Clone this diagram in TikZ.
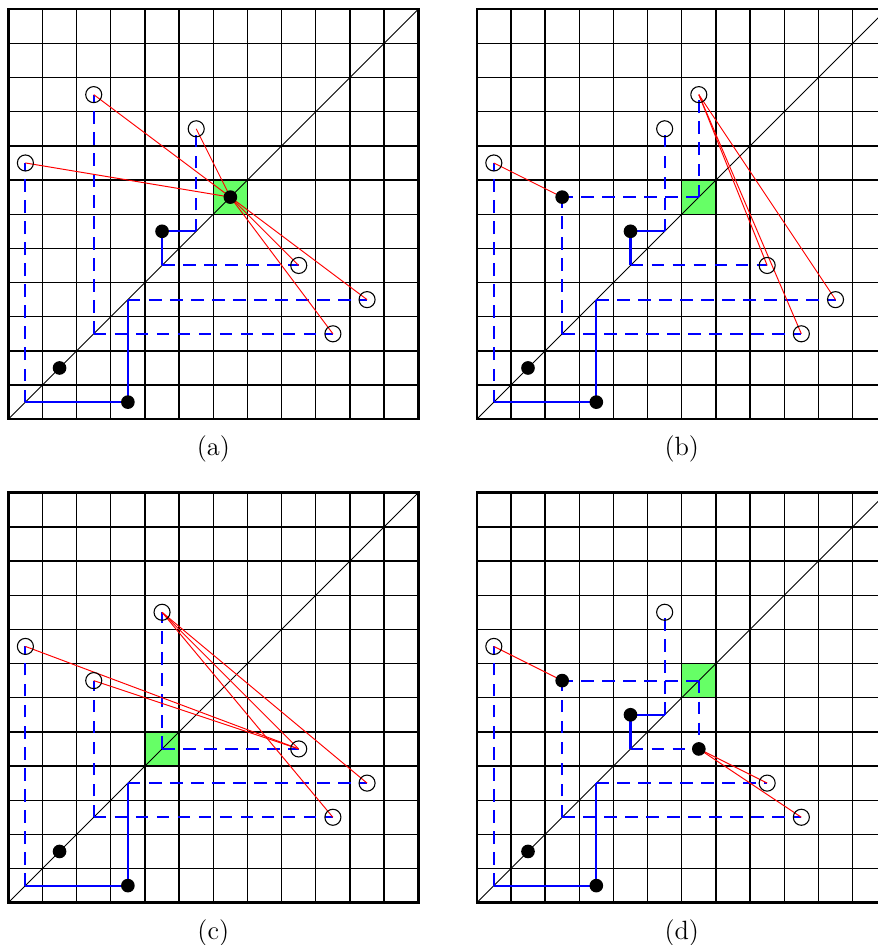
\documentclass[tikz,border=0pt]{standalone}
\usepackage{xcolor}
\usetikzlibrary{positioning}
\pgfdeclarelayer{board}
\pgfdeclarelayer{wires}
\pgfsetlayers{board,wires,main}

% grid, green cell and diagonal of one panel
\newcommand{\drawboard}[1]{%
  \begin{pgfonlayer}{board}
    \fill[cell] #1 rectangle ++(1,1);
    \draw[gridline] (0,0) grid (12,12);
    \draw[frame] (0,0) rectangle (12,12);
    \draw[diag] (0,0) -- (12,12);
  \end{pgfonlayer}}

\begin{document}
\begin{tikzpicture}[x=0.5cm, y=0.5cm,
    cell/.style={fill=green!60},
    gridline/.style={line width=0.55pt, step=1},
    frame/.style={line width=1pt},
    diag/.style={line width=0.4pt},
    hook/.style={blue, line width=0.85pt},
    tail/.style={blue, line width=0.85pt, dash pattern=on 5.25pt off 3.5pt},
    link/.style={red, line width=0.4pt},
    dot/.style={circle, fill=black, inner sep=0pt, minimum size=2mm},
    hole/.style={circle, draw, line width=0.45pt, inner sep=0pt, minimum size=2.35mm},
    caption/.style={inner sep=0pt, font=\fontsize{11pt}{13pt}\selectfont}
]
\useasboundingbox (-0.243,-1.238) rectangle (25.45,26.42);

% (a)
\begin{scope}[shift={(0,14.15)}]
  \drawboard{(6,6)}
  \node[dot]  (ad1) at (1.5,1.5) {};
  \node[dot]  (ad2) at (3.5,0.5) {};
  \node[dot]  (ad3) at (4.5,5.5) {};
  \node[dot]  (ad4) at (6.5,6.5) {};
  \node[hole] (ah1) at (0.5,7.5) {};
  \node[hole] (ah2) at (2.5,9.5) {};
  \node[hole] (ah3) at (5.5,8.5) {};
  \node[hole] (ah4) at (8.5,4.5) {};
  \node[hole] (ah5) at (10.5,3.5) {};
  \node[hole] (ah6) at (9.5,2.5) {};
  \coordinate (aq1) at (0.5,0.5);
  \coordinate (aq2) at (2.5,2.5);
  \coordinate (aq3) at (3.5,3.5);
  \coordinate (aq4) at (4.5,4.5);
  \coordinate (aq5) at (5.5,5.5);
  \begin{pgfonlayer}{wires}
    \draw[hook] (ad2.center) -- (aq1);
    \draw[hook] (ad2.center) -- (aq3);
    \draw[hook] (ad3.center) -- (aq5);
    \draw[hook] (ad3.center) -- (aq4);
    \draw[tail] (aq1) -- (ah1.center);
    \draw[tail] (aq2) -- (ah2.center);
    \draw[tail] (aq2) -- (ah6.center);
    \draw[tail] (aq3) -- (ah5.center);
    \draw[tail] (aq4) -- (ah4.center);
    \draw[tail] (aq5) -- (ah3.center);
    \foreach \h in {1,...,6}
      \draw[link] (ad4.center) -- (ah\h.center);
  \end{pgfonlayer}
  \node[caption] (acap) at (6,-0.88) {(a)};
\end{scope}

% (b)
\begin{scope}[shift={(13.71,14.15)}]
  \drawboard{(6,6)}
  \node[dot]  (bd1) at (1.5,1.5) {};
  \node[dot]  (bd2) at (3.5,0.5) {};
  \node[dot]  (bd3) at (4.5,5.5) {};
  \node[dot]  (bd4) at (2.5,6.5) {};
  \node[hole] (bh1) at (0.5,7.5) {};
  \node[hole] (bh2) at (6.5,9.5) {};
  \node[hole] (bh3) at (5.5,8.5) {};
  \node[hole] (bh4) at (8.5,4.5) {};
  \node[hole] (bh5) at (10.5,3.5) {};
  \node[hole] (bh6) at (9.5,2.5) {};
  \coordinate (bq1) at (0.5,0.5);
  \coordinate (bq2) at (2.5,2.5);
  \coordinate (bq3) at (3.5,3.5);
  \coordinate (bq4) at (4.5,4.5);
  \coordinate (bq5) at (5.5,5.5);
  \coordinate (bq6) at (6.5,6.5);
  \begin{pgfonlayer}{wires}
    \draw[hook] (bd2.center) -- (bq1);
    \draw[hook] (bd2.center) -- (bq3);
    \draw[hook] (bd3.center) -- (bq5);
    \draw[hook] (bd3.center) -- (bq4);
    \draw[tail] (bq1) -- (bh1.center);
    \draw[tail] (bq2) -- (bd4.center);
    \draw[tail] (bq2) -- (bh6.center);
    \draw[tail] (bq3) -- (bh5.center);
    \draw[tail] (bq4) -- (bh4.center);
    \draw[tail] (bq5) -- (bh3.center);
    \draw[tail] (bq6) -- (bd4.center);
    \draw[tail] (bq6) -- (bh2.center);
    \draw[link] (bd4.center) -- (bh1.center);
    \foreach \h in {4,5,6}
      \draw[link] (bh2.center) -- (bh\h.center);
  \end{pgfonlayer}
  \node[caption] (bcap) at (6,-0.88) {(b)};
\end{scope}

% (c)
\begin{scope}
  \drawboard{(4,4)}
  \node[dot]  (cd1) at (1.5,1.5) {};
  \node[dot]  (cd2) at (3.5,0.5) {};
  \node[hole] (ch1) at (0.5,7.5) {};
  \node[hole] (ch2) at (2.5,6.5) {};
  \node[hole] (ch3) at (4.5,8.5) {};
  \node[hole] (ch4) at (8.5,4.5) {};
  \node[hole] (ch5) at (10.5,3.5) {};
  \node[hole] (ch6) at (9.5,2.5) {};
  \coordinate (cq1) at (0.5,0.5);
  \coordinate (cq2) at (2.5,2.5);
  \coordinate (cq3) at (3.5,3.5);
  \coordinate (cq4) at (4.5,4.5);
  \begin{pgfonlayer}{wires}
    \draw[hook] (cd2.center) -- (cq1);
    \draw[hook] (cd2.center) -- (cq3);
    \draw[tail] (cq1) -- (ch1.center);
    \draw[tail] (cq2) -- (ch2.center);
    \draw[tail] (cq2) -- (ch6.center);
    \draw[tail] (cq3) -- (ch5.center);
    \draw[tail] (cq4) -- (ch3.center);
    \draw[tail] (cq4) -- (ch4.center);
    \draw[link] (ch1.center) -- (ch4.center);
    \draw[link] (ch2.center) -- (ch4.center);
    \foreach \h in {4,5,6}
      \draw[link] (ch3.center) -- (ch\h.center);
  \end{pgfonlayer}
  \node[caption] (ccap) at (6,-0.88) {(c)};
\end{scope}

% (d)
\begin{scope}[shift={(13.71,0)}]
  \drawboard{(6,6)}
  \node[dot]  (dd1) at (1.5,1.5) {};
  \node[dot]  (dd2) at (3.5,0.5) {};
  \node[dot]  (dd3) at (4.5,5.5) {};
  \node[dot]  (dd4) at (2.5,6.5) {};
  \node[dot]  (dd5) at (6.5,4.5) {};
  \node[hole] (dh1) at (0.5,7.5) {};
  \node[hole] (dh3) at (5.5,8.5) {};
  \node[hole] (dh5) at (8.5,3.5) {};
  \node[hole] (dh6) at (9.5,2.5) {};
  \coordinate (dq1) at (0.5,0.5);
  \coordinate (dq2) at (2.5,2.5);
  \coordinate (dq3) at (3.5,3.5);
  \coordinate (dq4) at (4.5,4.5);
  \coordinate (dq5) at (5.5,5.5);
  \coordinate (dq6) at (6.5,6.5);
  \begin{pgfonlayer}{wires}
    \draw[hook] (dd2.center) -- (dq1);
    \draw[hook] (dd2.center) -- (dq3);
    \draw[hook] (dd3.center) -- (dq5);
    \draw[hook] (dd3.center) -- (dq4);
    \draw[tail] (dq1) -- (dh1.center);
    \draw[tail] (dq2) -- (dd4.center);
    \draw[tail] (dq2) -- (dh6.center);
    \draw[tail] (dq3) -- (dh5.center);
    \draw[tail] (dq4) -- (dd5.center);
    \draw[tail] (dq5) -- (dh3.center);
    \draw[tail] (dq6) -- (dd4.center);
    \draw[tail] (dq6) -- (dd5.center);
    \draw[link] (dd4.center) -- (dh1.center);
    \draw[link] (dd5.center) -- (dh5.center);
    \draw[link] (dd5.center) -- (dh6.center);
  \end{pgfonlayer}
  \node[caption] (dcap) at (6,-0.88) {(d)};
\end{scope}
\end{tikzpicture}
\end{document}
